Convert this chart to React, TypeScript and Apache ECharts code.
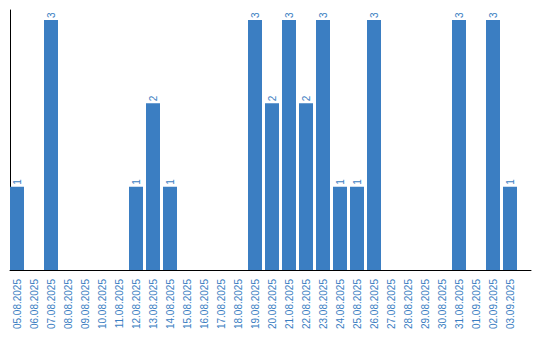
import React, { useEffect, useRef } from "react";
import * as echarts from "echarts";

const categories: string[] = [
  "05.08.2025", "06.08.2025", "07.08.2025", "08.08.2025", "09.08.2025",
  "10.08.2025", "11.08.2025", "12.08.2025", "13.08.2025", "14.08.2025",
  "15.08.2025", "16.08.2025", "17.08.2025", "18.08.2025", "19.08.2025",
  "20.08.2025", "21.08.2025", "22.08.2025", "23.08.2025", "24.08.2025",
  "25.08.2025", "26.08.2025", "27.08.2025", "28.08.2025", "29.08.2025",
  "30.08.2025", "31.08.2025", "01.09.2025", "02.09.2025", "03.09.2025",
];

const counts: number[] = [
  1, 0, 3, 0, 0, 0, 0, 1, 2, 1,
  0, 0, 0, 0, 3, 2, 3, 2, 3, 1,
  1, 3, 0, 0, 0, 0, 3, 0, 3, 1,
];

const BLUE = "#3b7ec2";

export default function App() {
  const ref = useRef<HTMLDivElement>(null);
  useEffect(() => {
    if (!ref.current) return;
    const chart = echarts.init(ref.current, null, { renderer: "svg" });
    chart.setOption({
      animation: false,
      grid: [
        { left: 8.5, right: 21.5, top: 20, bottom: 70, containLabel: false },
        { left: 10, right: 9, top: 10, bottom: 70, containLabel: false },
      ],
      xAxis: [
        {
          type: "category",
          gridIndex: 0,
          data: categories,
          axisLine: { show: false },
          axisTick: { show: false },
          axisLabel: {
            interval: 0,
            rotate: 90,
            margin: 9,
            color: BLUE,
            fontSize: 10,
            fontFamily: "Liberation Sans",
          },
        },
        {
          type: "value",
          gridIndex: 1,
          min: 0,
          max: 1,
          axisLine: { show: true, lineStyle: { color: "#000", width: 1 } },
          axisTick: { show: false },
          axisLabel: { show: false },
          splitLine: { show: false },
        },
      ],
      yAxis: [
        {
          type: "value",
          gridIndex: 0,
          min: 0,
          max: 3,
          axisLine: { show: false },
          axisTick: { show: false },
          axisLabel: { show: false },
          splitLine: { show: false },
        },
        {
          type: "value",
          gridIndex: 1,
          min: 0,
          max: 1,
          axisLine: { show: true, lineStyle: { color: "#000", width: 1 } },
          axisTick: { show: false },
          axisLabel: { show: false },
          splitLine: { show: false },
        },
      ],
      series: [
        {
          type: "bar",
          xAxisIndex: 0,
          yAxisIndex: 0,
          data: counts.map((v) => (v === 0 ? null : v)),
          barWidth: 14,
          itemStyle: { color: BLUE },
          label: {
            show: true,
            position: "top",
            rotate: 90,
            align: "left",
            verticalAlign: "middle",
            distance: 2,
            color: BLUE,
            fontSize: 10,
            fontFamily: "Liberation Sans",
          },
        },
      ],
    });
    return () => chart.dispose();
  }, []);
  return <div ref={ref} style={{ width: 540, height: 340, margin: -8 }} />;
}
